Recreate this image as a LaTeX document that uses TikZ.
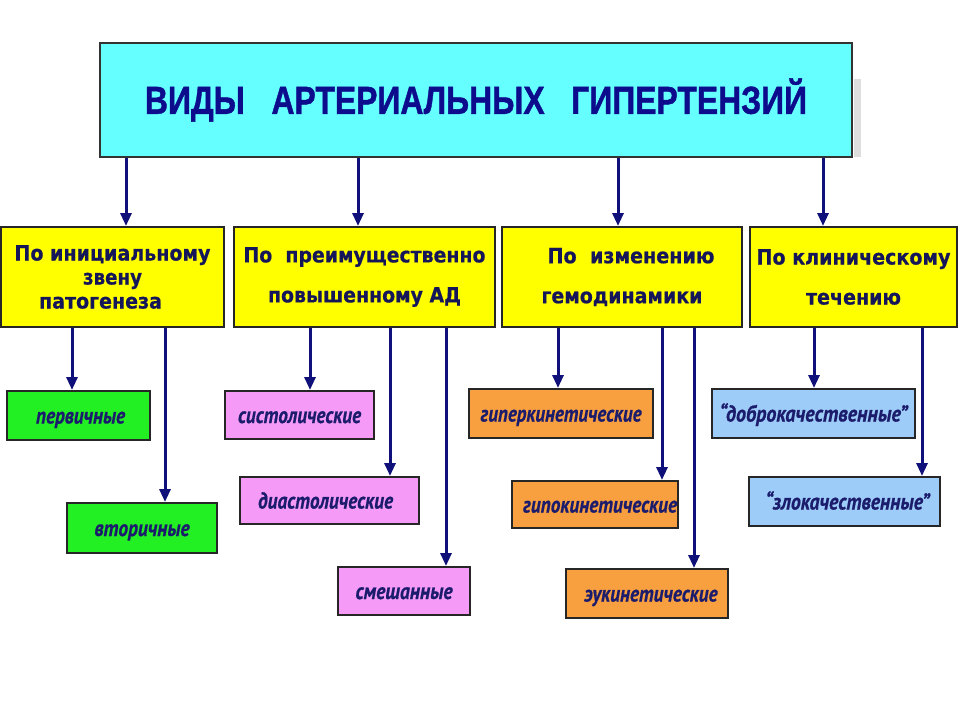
\documentclass[tikz,border=0pt]{standalone}
\usepackage{fontspec}
\usepackage{graphicx}
\usetikzlibrary{arrows.meta,calc}
\newfontfamily\ttlfont{Liberation Sans}[FakeBold=1.2]
\newfontfamily\boxfont{DejaVu Sans}[FakeBold=0.6]
\newfontfamily\leaffont{PT Sans}[FakeBold=0.6]
\newcommand\fitw[2]{\resizebox{#1pt}{\height}{#2}}
\definecolor{navyarr}{HTML}{10107A}
\definecolor{ttlcol}{HTML}{0C0C8C}
\definecolor{boxtxt}{HTML}{15155A}
\definecolor{leaftxt}{HTML}{1C1C6C}
\definecolor{cyanf}{HTML}{66FFFF}
\definecolor{yelf}{HTML}{FFFF00}
\definecolor{grnf}{HTML}{22F022}
\definecolor{pinkf}{HTML}{F59BF7}
\definecolor{orgf}{HTML}{F8A040}
\definecolor{bluef}{HTML}{9CCCF7}
\begin{document}
\begin{tikzpicture}[x=1pt,y=-1pt,
  topbox/.style={draw=black!80, line width=1.5pt, fill=cyanf, inner sep=0pt,
    minimum width=752pt, minimum height=114pt, text=ttlcol,
    font=\ttlfont\bfseries\fontsize{39}{39}\selectfont},
  catbox/.style={draw=black!85, line width=2pt, fill=yelf, inner sep=0pt,
    minimum height=100pt, text=boxtxt, align=center},
  leafbox/.style={draw=black!85, line width=2pt, inner sep=0pt, text=leaftxt,
    text height=16pt, text depth=0pt,
    font=\leaffont\bfseries\itshape\fontsize{23}{24}\selectfont},
  arr/.style={draw=navyarr, line width=3pt, -{Triangle[length=13pt,width=11pt]}}]
\fill[white] (0,0) rectangle (960,720);
\useasboundingbox (0,0) rectangle (960,720);

\node[topbox] (top) at (476,100) {\fitw{662}{ВИДЫ\ \ \ АРТЕРИАЛЬНЫХ\ \ \ ГИПЕРТЕНЗИЙ}};
\fill[black!13] ($(top.north east)+(1,37)$) rectangle ($(top.south east)+(8,-1)$);

\node[catbox, minimum width=223pt, font=\boxfont\bfseries\fontsize{21}{24}\selectfont] (b1) at (112.5,277)
  {\fitw{196}{По инициальному}\\ \fitw{59}{звену}\\ \fitw{123}{патогенеза}\hspace*{24pt}};
\node[catbox, minimum width=261pt, font=\boxfont\bfseries\fontsize{21}{40}\selectfont] (b2) at (364.5,277)
  {\fitw{242}{По\ \ преимущественно}\\ \fitw{193}{повышенному АД}};
\node[catbox, minimum width=240pt, font=\boxfont\bfseries\fontsize{21}{40}\selectfont] (b3) at (622,277)
  {\hspace*{18pt}\fitw{167}{По\ \ изменению}\\ \fitw{161}{гемодинамики}};
\node[catbox, minimum width=207pt, font=\boxfont\bfseries\fontsize{21}{40}\selectfont] (b4) at (853.5,277)
  {\fitw{194}{По клиническому}\\ \fitw{95}{течению}};

\node[leafbox, fill=grnf, minimum width=143pt, minimum height=49pt] (c11) at (78.5,415.5) {\hspace*{4pt}\fitw{89}{первичные}};
\node[leafbox, fill=grnf, minimum width=150pt, minimum height=50pt] (c12) at (142,528) {\fitw{95}{вторичные}};
\node[leafbox, fill=pinkf, minimum width=149pt, minimum height=48pt] (c21) at (299.5,415) {\fitw{123}{систолические}};
\node[leafbox, fill=pinkf, minimum width=179pt, minimum height=47pt] (c22) at (329.5,500.5) {\fitw{135}{диастолические}\hspace*{8pt}};
\node[leafbox, fill=pinkf, minimum width=132pt, minimum height=48pt] (c23) at (404,591) {\fitw{97}{смешанные}};
\node[leafbox, fill=orgf, minimum width=184pt, minimum height=49pt] (c31) at (561,413.5) {\fitw{161}{гиперкинетические}};
\node[leafbox, fill=orgf, minimum width=166pt, minimum height=47pt] (c32) at (595,504.5) {\hspace*{10pt}\fitw{154}{гипокинетические}};
\node[leafbox, fill=orgf, minimum width=162pt, minimum height=49pt] (c33) at (647,593.5) {\hspace*{8pt}\fitw{133}{эукинетические}};
\node[leafbox, fill=bluef, minimum width=203pt, minimum height=49pt] (c41) at (813.5,413.5) {\fitw{188}{“доброкачественные”}};
\node[leafbox, fill=bluef, minimum width=191pt, minimum height=49pt] (c42) at (844.5,501.5) {\hspace*{6pt}\fitw{164}{“злокачественные”}};

\foreach \p/\c/\x in {top/b1/126, top/b2/358, top/b3/618, top/b4/823,
    b1/c11/72, b1/c12/165, b2/c21/310, b2/c22/390, b2/c23/446,
    b3/c31/558, b3/c32/662, b3/c33/694, b4/c41/814, b4/c42/922}{
  \coordinate (ax) at (\x,0);
  \draw[arr] (\p.south -| ax) -- (\c.north -| ax);
}
\end{tikzpicture}
\end{document}
